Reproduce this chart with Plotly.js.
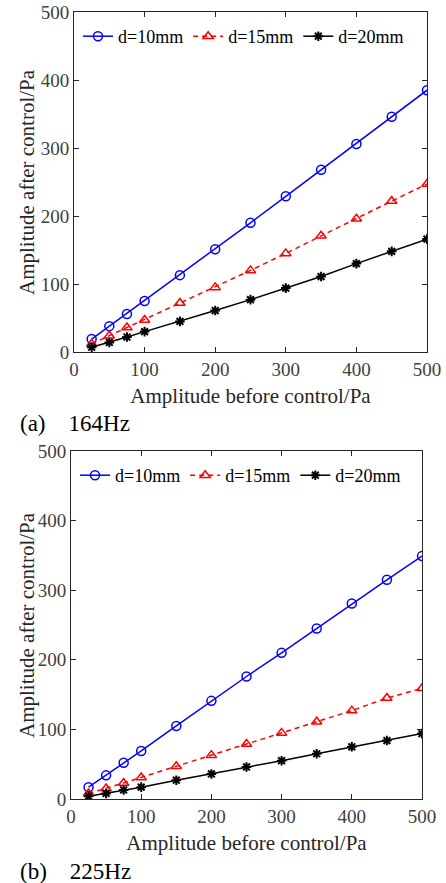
<!DOCTYPE html>
<html>
<head>
<meta charset="utf-8">
<script src="https://cdn.plot.ly/plotly-3.0.1.min.js"></script>
<style>html,body{margin:0;padding:0;background:#fff;}#chart{width:446px;height:883px;}</style>
</head>
<body>
<div id="chart"></div>
<script>
// Data
const amplitudeBefore = [25, 50, 75, 100, 150, 200, 250, 300, 350, 400, 450, 500];
const seriesNames = ['d=10mm', 'd=15mm', 'd=20mm'];
// (a) 164Hz
const a_d10 = [19, 38, 56, 75, 113, 151, 190, 229, 268, 306, 346, 385];
const a_d15 = [12, 24, 36, 47, 72, 95, 120, 145, 171, 196, 222, 247];
const a_d20 = [7, 14, 22, 30, 45, 61, 77, 94, 111, 130, 148, 166];
// (b) 225Hz
const b_d10 = [17, 34, 52, 69, 105, 141, 176, 210, 245, 281, 315, 349];
const b_d15 = [8, 15, 23, 31, 47, 63, 79, 95, 111, 127, 145, 159];
const b_d20 = [4, 8, 13, 17, 27, 36, 46, 55, 65, 75, 84, 94];
const xTicks = [0, 100, 200, 300, 400, 500];
const yTicks = [0, 100, 200, 300, 400, 500];
const panelLabels = ['(a)\u00A0\u00A0\u00A0\u00A0164Hz', '(b)\u00A0\u00A0\u00A0\u00A0225Hz'];
const xTitle = 'Amplitude before control/Pa';
const yTitle = 'Amplitude after control/Pa';

const W = 446, H = 883;
const FAM = '"Liberation Serif", "Times New Roman", serif';
const styles = [
  {color: '#0000ff', symbol: 'circle-open', dash: 'solid', size: 9},
  {color: '#ff0000', symbol: 'triangle-up-open', dash: '5px,4px', size: 9},
  {color: '#000000', symbol: 'asterisk-open', dash: 'solid', size: 8}
];
function mk(ys, i, xa, ya, lg) {
  return {
    x: amplitudeBefore, y: ys, name: seriesNames[i], type: 'scatter', mode: 'lines+markers',
    xaxis: xa, yaxis: ya, showlegend: true, legend: lg,
    line: {color: styles[i].color, width: 1.5, dash: styles[i].dash},
    marker: {symbol: styles[i].symbol, size: styles[i].size, color: styles[i].color,
             line: {color: styles[i].color, width: i === 2 ? 2 : 1.5}}
  };
}
const data = [
  mk(a_d10, 0, 'x', 'y', 'legend'),
  mk(a_d15, 1, 'x', 'y', 'legend'),
  mk(a_d20, 2, 'x', 'y', 'legend'),
  mk(b_d10, 0, 'x2', 'y2', 'legend2'),
  mk(b_d15, 1, 'x2', 'y2', 'legend2'),
  mk(b_d20, 2, 'x2', 'y2', 'legend2')
];
const tickFont = {family: FAM, size: 19, color: '#404040'};
const titleFont = {family: FAM, size: 21, color: '#262626'};
function xax(dom, anchor) {
  return {domain: dom, anchor: anchor, range: [0, 500], tickvals: xTicks, ticks: 'inside', ticklen: 5,
    tickcolor: '#262626', showline: true, linecolor: '#262626', linewidth: 1, mirror: 'ticks',
    showgrid: false, zeroline: false, tickfont: tickFont,
    title: {text: xTitle, font: titleFont, standoff: 9}};
}
function yax(dom, anchor) {
  return {domain: dom, anchor: anchor, range: [0, 500], tickvals: yTicks, ticks: 'inside', ticklen: 5,
    tickcolor: '#262626', showline: true, linecolor: '#262626', linewidth: 1, mirror: 'ticks',
    showgrid: false, zeroline: false, tickfont: tickFont,
    title: {text: '', font: titleFont}};
}
const legFont = {family: FAM, size: 18, color: '#000'};
const yDom1 = [(H - 352) / H, (H - 12) / H];
const yDom2 = [(H - 799) / H, (H - 451) / H];
function yTitleAnn(dom) {
  return {text: yTitle, xref: 'paper', yref: 'paper', x: 27 / W, y: (dom[0] + dom[1]) / 2,
    xanchor: 'center', yanchor: 'middle', textangle: -90, showarrow: false, font: titleFont};
}
const layout = {
  width: W, height: H,
  margin: {l: 0, r: 0, t: 0, b: 0},
  paper_bgcolor: '#fff', plot_bgcolor: '#fff',
  font: {family: FAM},
  xaxis: xax([74 / W, 427 / W], 'y'),
  yaxis: yax(yDom1, 'x'),
  xaxis2: xax([71 / W, 422 / W], 'y2'),
  yaxis2: yax(yDom2, 'x2'),
  legend: {orientation: 'h', x: 78 / W, y: (H - 18) / H, xanchor: 'left', yanchor: 'top',
    font: legFont, bgcolor: 'rgba(0,0,0,0)', itemwidth: 30, tracegroupgap: 0},
  legend2: {orientation: 'h', x: 75 / W, y: (H - 457) / H, xanchor: 'left', yanchor: 'top',
    font: legFont, bgcolor: 'rgba(0,0,0,0)', itemwidth: 30, tracegroupgap: 0},
  annotations: [
    yTitleAnn(yDom1),
    yTitleAnn(yDom2),
    {text: panelLabels[0], xref: 'paper', yref: 'paper', x: 18 / W, y: (H - 423) / H,
     xanchor: 'left', yanchor: 'middle', showarrow: false,
     font: {family: FAM, size: 23, color: '#000'}},
    {text: panelLabels[1], xref: 'paper', yref: 'paper', x: 18 / W, y: (H - 871) / H,
     xanchor: 'left', yanchor: 'middle', showarrow: false,
     font: {family: FAM, size: 23, color: '#000'}}
  ],
  showlegend: true
};
Plotly.newPlot('chart', data, layout, {displayModeBar: false, staticPlot: true});
</script>
</body>
</html>
